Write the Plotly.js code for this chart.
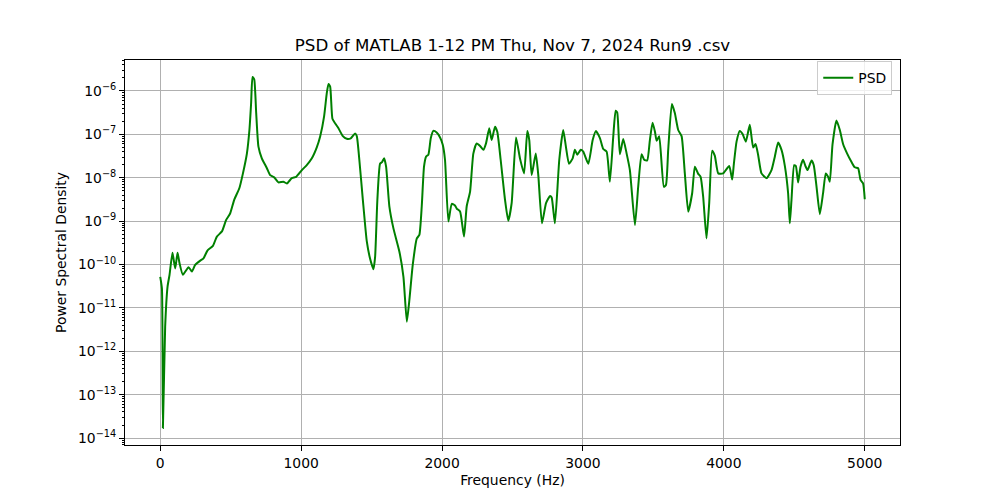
<!DOCTYPE html>
<html>
<head>
<meta charset="utf-8">
<script src="https://cdn.plot.ly/plotly-3.0.1.min.js"></script>
<style>
html, body { margin: 0; padding: 0; background: #fff; }
#chart { width: 1000px; height: 500px; }
</style>
</head>
<body>
<div id="chart"></div>
<script>
// frequency (Hz) and PSD values
let freq = [0, 12, 19, 35, 52, 66, 87, 106, 123, 137, 161, 201, 225, 248, 284, 307, 335, 374, 402, 438,
  468, 496, 525, 562, 587, 615, 633, 645, 655, 667, 681, 697, 721, 757, 780, 809, 839, 874, 899, 934,
  965, 1005, 1040, 1076, 1111, 1135, 1163, 1182, 1194, 1206, 1222, 1241, 1265, 1296, 1324, 1352, 1383, 1395, 1413, 1438,
  1466, 1489, 1513, 1525, 1541, 1560, 1574, 1589, 1603, 1626, 1655, 1697, 1726, 1750, 1768, 1792, 1821, 1839, 1856, 1872,
  1887, 1903, 1920, 1938, 1962, 1986, 2005, 2021, 2045, 2069, 2092, 2104, 2128, 2156, 2175, 2199, 2222, 2246, 2270, 2293,
  2312, 2335, 2352, 2376, 2392, 2416, 2447, 2470, 2494, 2525, 2553, 2582, 2605, 2619, 2636, 2665, 2683, 2709, 2738, 2766,
  2778, 2801, 2832, 2860, 2879, 2901, 2927, 2943, 2960, 2984, 3002, 3038, 3069, 3092, 3121, 3144, 3168, 3191, 3215, 3232,
  3243, 3262, 3286, 3310, 3333, 3369, 3392, 3416, 3435, 3456, 3475, 3494, 3511, 3523, 3541, 3574, 3589, 3605, 3631, 3652,
  3676, 3700, 3723, 3747, 3775, 3794, 3818, 3835, 3853, 3877, 3896, 3917, 3936, 3960, 3995, 4038, 4059, 4071, 4090, 4113,
  4133, 4156, 4184, 4208, 4225, 4243, 4267, 4303, 4338, 4362, 4385, 4409, 4433, 4456, 4468, 4480, 4499, 4511, 4527, 4544,
  4562, 4579, 4594, 4622, 4638, 4657, 4681, 4704, 4723, 4740, 4752, 4771, 4799, 4823, 4846, 4875, 4906, 4929, 4953, 4970,
  4988, 5000]

let psd = [5.2e-11, 2.8e-11, 1.7e-14, 3.7e-12, 3.1e-11, 5.8e-11, 1.86e-10, 8.1e-11, 1.86e-10, 1.07e-10, 5.8e-11, 8.7e-11, 6.9e-11, 9.8e-11, 1.23e-10, 1.38e-10, 2.1e-10, 2.7e-10, 4.4e-10, 5.8e-10,
  1.07e-9, 1.5e-9, 3.1e-9, 5.8e-9, 1.26e-8, 3.6e-8, 1.26e-7, 5.2e-7, 2.1e-6, 1.86e-6, 3.1e-7, 5.2e-8, 2.8e-8, 1.66e-8, 1.15e-8, 1.02e-8, 7.8e-9, 8.1e-9, 7.4e-9, 9.8e-9,
  1.05e-8, 1.5e-8, 1.95e-8, 2.8e-8, 5.0e-8, 8.9e-8, 2.6e-7, 8.9e-7, 1.45e-6, 1.26e-6, 2.3e-7, 1.8e-7, 1.38e-7, 9.1e-8, 7.9e-8, 8.1e-8, 1.05e-7, 9.1e-8, 2.6e-8, 3.1e-9,
  3.4e-10, 1.38e-10, 7.8e-11, 1.5e-10, 3.1e-9, 2.1e-8, 2.3e-8, 2.8e-8, 1.8e-8, 2.2e-9, 6.8e-10, 2.0e-10, 5.2e-11, 4.8e-12, 1.5e-11, 9.8e-11, 4.0e-10, 4.8e-10, 2.2e-9, 1.8e-8,
  3.1e-8, 3.4e-8, 8.1e-8, 1.2e-7, 1.1e-7, 8.5e-8, 5.8e-8, 2.6e-8, 9.8e-10, 2.5e-9, 2.3e-9, 1.95e-9, 1.66e-9, 4.4e-10, 2.2e-9, 4.8e-9, 3.6e-8, 6.2e-8, 5.4e-8, 4.4e-8,
  6.2e-8, 1.38e-7, 7.4e-8, 1.5e-7, 1.15e-7, 2.6e-8, 3.1e-9, 1.02e-9, 2.6e-9, 8.5e-8, 2.8e-8, 1.26e-8, 1.2e-7, 7.4e-8, 1.15e-8, 3.6e-8, 1.15e-8, 8.9e-10, 2.6e-9, 3.8e-9,
  3.5e-9, 8.9e-10, 2.6e-8, 1.26e-7, 5.2e-8, 2.1e-8, 2.8e-8, 4.4e-8, 3.4e-8, 4.4e-8, 4.0e-8, 2.1e-8, 7.4e-8, 1.2e-7, 8.1e-8, 4.6e-8, 4.0e-8, 8.1e-9, 8.9e-8, 3.5e-7,
  3.2e-7, 3.5e-8, 7.8e-8, 3.6e-8, 1.5e-8, 8.1e-10, 6.2e-9, 3.5e-8, 2.6e-8, 2.5e-8, 7.4e-8, 1.86e-7, 1.15e-7, 7.1e-8, 9.1e-8, 6.2e-9, 6.8e-9, 4.4e-8, 5.0e-7, 3.1e-7,
  1.26e-7, 9.1e-8, 1.26e-8, 1.66e-9, 4.4e-9, 1.8e-8, 1.23e-8, 1.05e-8, 3.7e-9, 4.0e-10, 2.6e-9, 4.2e-8, 3.2e-8, 1.26e-8, 1.26e-8, 1.86e-8, 9.1e-9, 2.1e-8, 6.8e-8, 1.2e-7,
  1.02e-7, 6.8e-8, 1.66e-7, 5.0e-8, 6.0e-8, 3.4e-8, 1.26e-8, 9.8e-9, 1.5e-8, 3.1e-8, 6.5e-8, 4.4e-8, 1.86e-8, 4.4e-9, 8.9e-10, 3.1e-9, 1.95e-8, 1.86e-8, 7.8e-9, 1.8e-8,
  2.6e-8, 1.86e-8, 1.5e-8, 2.5e-8, 1.95e-8, 6.5e-9, 1.45e-9, 4.4e-9, 1.26e-8, 1.05e-8, 8.1e-9, 5.8e-8, 2.1e-7, 1.26e-7, 6.0e-8, 3.6e-8, 2.3e-8, 1.74e-8, 1.66e-8, 8.9e-9,
  7.4e-9, 3.2e-9]

let xTicks = [0, 1000, 2000, 3000, 4000, 5000]
let yExps = [-14, -13, -12, -11, -10, -9, -8, -7, -6]

let yTickVals = yExps.map(e => Math.pow(10, e))
let yTickText = yExps.map(e => "10<sup>\u2212" + (-e) + "</sup>")

let minorVals = []
for (let e = -15; e <= -6; e++) {
  for (let m = 2; m <= 9; m++) {
    minorVals.push(m * Math.pow(10, e))
  }
}

let font = "DejaVu Sans, sans-serif"

let trace = {
  x: freq,
  y: psd,
  type: "scatter",
  mode: "lines",
  name: "PSD",
  line: { color: "#008000", width: 2, shape: "spline", smoothing: 0.5 }
}

let layout = {
  width: 1000,
  height: 500,
  margin: { l: 125, r: 100, t: 60, b: 55 },
  paper_bgcolor: "#fff",
  plot_bgcolor: "#fff",
  font: { family: font, size: 14, color: "#000" },
  title: {
    text: "PSD of MATLAB 1-12 PM Thu, Nov 7, 2024 Run9 .csv",
    font: { family: font, size: 16.7, color: "#000" },
    x: 0.5125, xanchor: "center", y: 0.898, yanchor: "bottom"
  },
  xaxis: {
    range: [-250, 5250],
    tickmode: "array",
    tickvals: xTicks,
    ticks: "outside", ticklen: 5, tickwidth: 1, tickcolor: "#000",
    showline: true, linecolor: "#000", linewidth: 1, mirror: true,
    showgrid: true, gridcolor: "#b0b0b0", gridwidth: 1,
    zeroline: false,
    tickfont: { family: font, size: 13.9 },
    title: { text: "Frequency (Hz)", font: { family: font, size: 13.9 }, standoff: 5 }
  },
  yaxis: {
    type: "log",
    range: [-14.16, -5.286],
    tickmode: "array",
    tickvals: yTickVals,
    ticktext: yTickText,
    ticks: "outside", ticklen: 5, tickwidth: 1, tickcolor: "#000",
    minor: { tickmode: "array", tickvals: minorVals, ticks: "outside", ticklen: 2.5, tickcolor: "#000", showgrid: false },
    showline: true, linecolor: "#000", linewidth: 1, mirror: true,
    showgrid: true, gridcolor: "#b0b0b0", gridwidth: 1,
    zeroline: false,
    tickfont: { family: font, size: 13.9 },
    title: { text: "Power Spectral Density", font: { family: font, size: 13.9 }, standoff: 8 }
  },
  showlegend: true,
  legend: {
    x: 0.99, y: 0.997, xanchor: "right", yanchor: "top",
    bgcolor: "rgba(255,255,255,0.8)", bordercolor: "#cccccc", borderwidth: 1,
    font: { family: font, size: 13.9 }
  }
}

Plotly.newPlot("chart", [trace], layout, { displayModeBar: false })
</script>
</body>
</html>
